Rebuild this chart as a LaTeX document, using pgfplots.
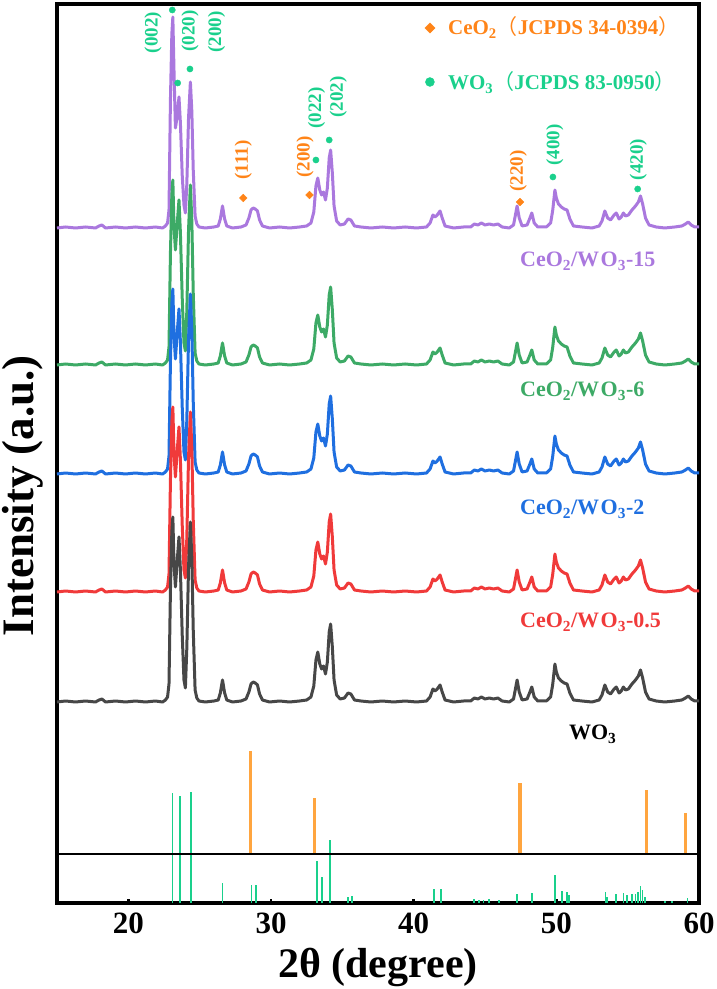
\documentclass[border=0pt]{standalone}
\usepackage{fontspec}
\setmainfont{Liberation Serif}
\newfontfamily\cjk{Noto Sans CJK SC}
\usepackage{pgfplots}
\usepackage{pgfplotstable}
\pgfplotsset{compat=1.18}
\definecolor{cgray}{HTML}{474747}
\definecolor{cred}{HTML}{F03A3A}
\definecolor{cblue}{HTML}{1F6FE0}
\definecolor{cgreen}{HTML}{3DAA66}
\definecolor{cpurple}{HTML}{AA78DE}
\definecolor{cmint}{HTML}{1AD08C}
\definecolor{corange}{HTML}{FF8418}
\definecolor{cstick}{HTML}{FFA53F}

\pgfplotstableread{
x g r b n p
15.0 201 311 429 538 675
15.6 202 312 430 539 676
16.3 201 311 429 538 675
17.0 202 312 430 539 676
17.7 201 311 429 538 675
17.95 203 313 431 540 677
18.15 204 314 432 541 678
18.4 201 311 429 538 675
19.1 202 312 430 539 676
19.8 201 311 429 538 675
20.5 202 312 430 539 676
21.2 201 311 429 538 675
21.9 202 312 430 539 676
22.4 201 311 429 538 675
22.6 203 313 431 540 677
22.75 206 316 434 543 680
22.85 219 329 447 556 693
22.95 312 422 540 649 802
23.05 371 481 599 708 869
23.12 386 496 614 723 886
23.2 340 450 568 677 833
23.3 316 426 544 653 775
23.42 341 451 569 678 786
23.55 366 476 594 703 806
23.65 333 443 561 670 780
23.78 267 377 495 604 727
23.9 223 333 451 560 698
24.0 215 325 443 552 690
24.1 255 365 483 592 719
24.22 336 446 564 673 785
24.35 381 491 609 718 821
24.45 345 455 573 682 792
24.55 273 383 501 610 733
24.68 213 323 441 550 687
24.8 205 315 433 542 679
24.95 202 312 430 539 676
25.4 201 311 429 538 675
26.0 202 312 430 539 676
26.3 203 313 431 540 677
26.45 210 320 438 547 684
26.6 223 333 451 560 697
26.75 210 320 438 547 684
26.9 203 313 431 540 677
27.3 201 311 429 538 675
27.9 202 312 430 539 676
28.25 204 314 432 541 678
28.45 211 321 439 548 685
28.6 219 329 447 556 693
28.75 221 331 449 558 695
28.9 220 330 448 557 694
29.05 218 328 446 555 692
29.2 209 319 437 546 683
29.4 203 313 431 540 677
29.9 201 311 429 538 675
30.6 202 312 430 539 676
31.3 201 311 429 538 675
32.0 202 312 430 539 676
32.5 203 313 431 540 677
32.8 206 316 434 543 680
33.0 217 327 445 554 691
33.15 243 353 471 580 717
33.28 251 361 479 588 725
33.42 239 349 467 576 713
33.55 234 344 462 571 708
33.68 237 347 465 574 711
33.82 229 339 457 566 703
33.95 241 351 469 578 715
34.08 271 381 499 608 745
34.18 279 389 507 616 753
34.3 256 366 484 593 730
34.42 223 333 451 560 697
34.6 208 318 436 545 682
34.85 204 314 432 541 678
35.15 205 315 433 542 679
35.4 210 320 438 547 684
35.6 209 319 437 546 683
35.85 203 313 431 540 677
36.3 202 312 430 539 676
37.0 201 311 429 538 675
37.8 202 312 430 539 676
38.6 201 311 429 538 675
39.4 202 312 430 539 676
40.2 201 311 429 538 675
40.9 202 312 430 539 676
41.15 206 316 434 543 680
41.35 214 324 442 551 688
41.5 212 322 440 549 686
41.65 214 324 442 551 688
41.85 218 328 446 555 692
42.0 211 321 439 548 685
42.2 203 313 431 540 677
42.8 201 311 429 538 675
43.5 202 312 430 539 676
44.0 202 312 430 539 676
44.25 205 315 433 542 679
44.5 204 314 432 541 678
44.75 206 316 434 543 680
45.0 204 314 432 541 678
45.3 205 315 433 542 679
45.6 204 314 432 541 678
45.9 205 315 433 542 679
46.2 202 312 430 539 676
46.7 201 311 429 538 675
47.0 204 314 432 541 678
47.12 213 323 441 550 687
47.25 223 333 451 560 697
47.4 211 321 439 548 685
47.6 203 313 431 540 677
47.95 204 314 432 541 678
48.15 211 321 439 548 685
48.28 216 326 444 553 690
48.45 206 316 434 543 680
48.7 202 312 430 539 676
49.3 202 312 430 539 676
49.6 206 316 434 543 680
49.75 219 329 447 556 693
49.9 239 349 467 576 713
50.0 231 341 459 568 705
50.15 225 335 453 562 699
50.35 222 332 450 559 696
50.55 220 330 448 557 694
50.75 219 329 447 556 693
50.95 210 320 438 547 684
51.2 203 313 431 540 677
51.8 202 312 430 539 676
52.5 201 311 429 538 675
53.0 203 313 431 540 677
53.2 208 318 436 545 682
53.4 218 328 446 555 692
53.6 211 321 439 548 685
53.8 209 319 437 546 683
54.05 214 324 442 551 688
54.2 216 326 444 553 690
54.4 210 320 438 547 684
54.55 212 322 440 549 686
54.7 216 326 444 553 690
54.85 213 323 441 550 687
55.05 214 324 442 551 688
55.3 219 329 447 556 693
55.55 223 333 451 560 697
55.75 227 337 455 564 701
55.9 233 343 461 570 707
56.05 225 335 453 562 699
56.25 211 321 439 548 685
56.5 204 314 432 541 678
57.0 202 312 430 539 676
57.6 201 311 429 538 675
58.3 202 312 430 539 676
58.8 203 313 431 540 677
59.05 205 315 433 542 679
59.25 207 317 435 544 681
59.45 204 314 432 541 678
59.7 202 312 430 539 676
60.0 202 312 430 539 676
}\xrd

\pgfplotstableread{
x y
23.1 110
23.6 107
24.37 111
26.6 20
28.64 18
28.95 18
33.24 42
33.55 26
34.15 63
35.4 6
35.65 7
41.42 14
41.89 14
44.25 4
44.6 3
44.9 3
45.3 4
45.97 3
47.24 9
48.27 10
49.9 28
50.37 12
50.72 11
50.86 8
53.45 11
53.55 6
54.17 9
54.71 10
54.97 8
55.3 9
55.55 9
55.74 11
55.9 17
56.04 13
56.2 6
57.6 2
58.1 2
59.2 5
}\wosticks

\begin{document}
\begin{tikzpicture}
\begin{axis}[
  at={(0,0)}, anchor=south west,
  scale only axis, width=642bp, height=899bp,
  xmin=15, xmax=60, ymin=0, ymax=899,
  axis line style={line width=4.5bp},
  xtick={20,30,40,50,60}, ytick=\empty,
  tick align=inside, xtick pos=left,
  major tick length=4bp,
  tick style={line width=2.5bp, black},
  /pgf/number format/assume math mode=true,
  xticklabel style={font=\fontsize{31bp}{37bp}\selectfont\bfseries, inner sep=0pt, yshift=-10bp},
  xlabel={2θ (degree)}, ylabel={Intensity (a.u.)},
  xlabel style={font=\fontsize{42bp}{50bp}\selectfont\bfseries, at={(axis description cs:0.5,-0.0712)}, anchor=center, inner sep=0pt},
  ylabel style={font=\fontsize{45bp}{53bp}\selectfont\bfseries, at={(axis description cs:-0.053,0.453)}, anchor=center, inner sep=0pt},
]
% curves
\addplot[cpurple, line width=3bp, line join=round] table[x=x, y=p] {\xrd};
\addplot[cgreen, line width=3bp, line join=round] table[x=x, y=n] {\xrd};
\addplot[cblue, line width=3bp, line join=round] table[x=x, y=b] {\xrd};
\addplot[cred, line width=3bp, line join=round] table[x=x, y=r] {\xrd};
\addplot[cgray, line width=3bp, line join=round] table[x=x, y=g] {\xrd};
% reference sticks
\addplot[cmint, line width=1.8bp, ycomb, mark=none] table[x=x, y=y] {\wosticks};
\addplot[cstick, line width=3.2bp] coordinates {(28.57,49) (28.57,152)};
\addplot[cstick, line width=3.2bp] coordinates {(33.03,49) (33.03,105)};
\addplot[cstick, line width=3.2bp] coordinates {(47.45,49) (47.45,120)};
\addplot[cstick, line width=3.2bp] coordinates {(56.32,49) (56.32,113)};
\addplot[cstick, line width=3.2bp] coordinates {(59.06,49) (59.06,90)};
\addplot[black, line width=1.2bp] coordinates {(15,49) (60,49)};
% markers
\addplot[only marks, mark=square*, mark size=2.7bp, mark options={rotate=45, draw=corange, fill=corange}] coordinates {(28.06,705) (32.7,708) (47.45,701)};
\addplot[only marks, mark=square*, mark size=3.6bp, mark options={rotate=45, draw=corange, fill=corange}] coordinates {(41.14,875)};
\addplot[only marks, mark=*, mark size=3.1bp, mark options={draw=cmint, fill=cmint}] coordinates {(23.08,893) (23.46,820) (24.32,834) (33.15,743) (34.08,763) (49.76,726) (55.7,714)};
\addplot[only marks, mark=*, mark size=4.5bp, mark options={draw=cmint, fill=cmint}] coordinates {(41.14,821)};
% hkl labels
\begin{scope}[every node/.style={rotate=90, anchor=center, inner sep=0pt, font=\fontsize{19bp}{22bp}\selectfont\bfseries}]
\node[text=cmint] at (axis cs:21.73,870.5) {(002)};
\node[text=cmint] at (axis cs:24.32,872) {(020)};
\node[text=cmint] at (axis cs:26.19,871) {(200)};
\node[text=corange] at (axis cs:28.06,743) {(111)};
\node[text=corange] at (axis cs:32.38,746) {(200)};
\node[text=cmint] at (axis cs:33.2,795) {(022)};
\node[text=cmint] at (axis cs:34.71,806) {(202)};
\node[text=corange] at (axis cs:47.33,732) {(220)};
\node[text=cmint] at (axis cs:49.9,758) {(400)};
\node[text=cmint] at (axis cs:55.74,743.5) {(420)};
\end{scope}
% legend text
\node[anchor=base west, inner sep=0pt, text=corange, font=\fontsize{21bp}{24bp}\selectfont\bfseries] at (axis cs:42.40,868) {CeO\textsubscript{2}{\cjk\mdseries （}JCPDS 34-0394{\cjk\mdseries ）}};
\node[anchor=base west, inner sep=0pt, text=cmint, font=\fontsize{21bp}{24bp}\selectfont\bfseries] at (axis cs:42.40,813) {WO\textsubscript{3}{\cjk\mdseries （}JCPDS 83-0950{\cjk\mdseries ）}};
% series labels
\begin{scope}[every node/.style={anchor=base west, inner sep=0pt, font=\fontsize{22bp}{26bp}\selectfont\bfseries}]
\node[text=cpurple] at (axis cs:47.45,636) {CeO\textsubscript{2}/W\kern1.5bp O\textsubscript{3}-15};
\node[text=cgreen] at (axis cs:47.45,506) {CeO\textsubscript{2}/W\kern1.5bp O\textsubscript{3}-6};
\node[text=cblue] at (axis cs:47.45,388) {CeO\textsubscript{2}/W\kern1.5bp O\textsubscript{3}-2};
\node[text=cred] at (axis cs:47.45,275) {CeO\textsubscript{2}/W\kern1.5bp O\textsubscript{3}-0.5};
\node[text=black] at (axis cs:50.88,163) {WO\textsubscript{3}};
\end{scope}
\end{axis}
\pgfresetboundingbox
\path[use as bounding box] (-57bp,-86bp) rectangle (660bp,903bp);
\end{tikzpicture}
\end{document}
